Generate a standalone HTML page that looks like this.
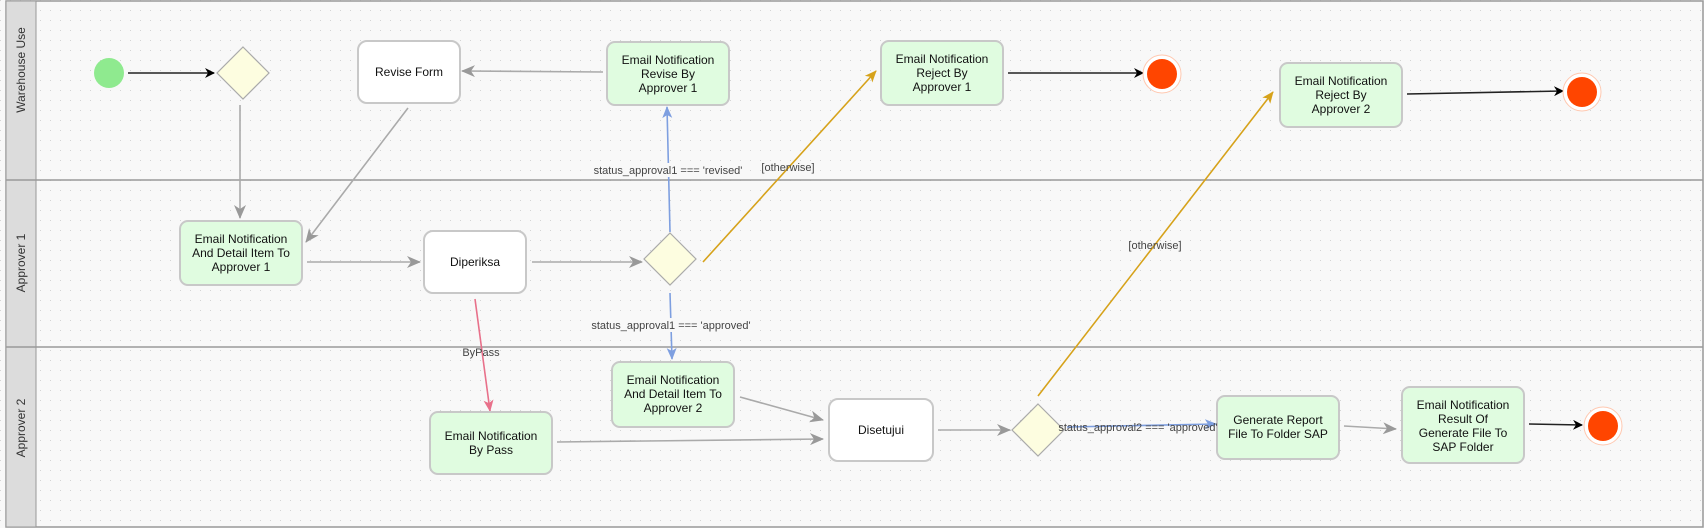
<!DOCTYPE html>
<html><head><meta charset="utf-8"><style>
html,body{margin:0;padding:0;background:#fff;}
svg{display:block;font-family:"Liberation Sans",Arial,sans-serif;}
</style></head><body>
<svg width="1704" height="528" viewBox="0 0 1704 528" xmlns="http://www.w3.org/2000/svg">
<defs>
<pattern id="dots" width="10" height="10" patternUnits="userSpaceOnUse"><rect width="10" height="10" fill="#f8f8f8"/><rect x="0" y="0" width="1" height="1" fill="#d4d4d4"/></pattern>
<marker id="ab" markerWidth="10" markerHeight="10" refX="9" refY="5" orient="auto" markerUnits="userSpaceOnUse"><path d="M0,0 L10,5 L0,10 L3,5 z" fill="#000"/></marker>
<marker id="ag" markerWidth="14" markerHeight="12" refX="13" refY="6" orient="auto" markerUnits="userSpaceOnUse"><path d="M0,0 L14,6 L0,12 L4,6 z" fill="#999"/></marker>
<marker id="abl" markerWidth="12" markerHeight="10" refX="11" refY="5" orient="auto" markerUnits="userSpaceOnUse"><path d="M0,0 L12,5 L0,10 L3,5 z" fill="#7e9fe0"/></marker>
<marker id="ao" markerWidth="12" markerHeight="10" refX="11" refY="5" orient="auto" markerUnits="userSpaceOnUse"><path d="M0,0 L12,5 L0,10 L3,5 z" fill="#d6a21a"/></marker>
<marker id="ap" markerWidth="12" markerHeight="10" refX="11" refY="5" orient="auto" markerUnits="userSpaceOnUse"><path d="M0,0 L12,5 L0,10 L3,5 z" fill="#e8708a"/></marker>
</defs>
<rect x="0" y="0" width="1704" height="528" fill="url(#dots)"/>
<rect x="6" y="1" width="1697" height="526" fill="none" stroke="#999" stroke-width="1.5"/>
<rect x="6" y="1" width="30" height="526" fill="#dcdcdc" stroke="#999"/>
<line x1="6" y1="180" x2="1703" y2="180" stroke="#999" stroke-width="1.5"/>
<line x1="6" y1="347" x2="1703" y2="347" stroke="#999" stroke-width="1.5"/>
<g font-size="12" fill="#333" text-anchor="middle">
<text transform="translate(25,70) rotate(-90)">Warehouse Use</text>
<text transform="translate(25,263) rotate(-90)">Approver 1</text>
<text transform="translate(25,428) rotate(-90)">Approver 2</text>
</g>
<g fill="none" stroke-width="1.6">
<line x1="128" y1="73" x2="214" y2="73" stroke="#222" marker-end="url(#ab)"/>
<line x1="240" y1="105" x2="240" y2="218" stroke="#aaa" marker-end="url(#ag)"/>
<line x1="408" y1="108" x2="306" y2="242" stroke="#aaa" marker-end="url(#ag)"/>
<line x1="307" y1="262" x2="420" y2="262" stroke="#aaa" marker-end="url(#ag)"/>
<line x1="603" y1="72" x2="462" y2="71" stroke="#aaa" marker-end="url(#ag)"/>
<line x1="532" y1="262" x2="642" y2="262" stroke="#aaa" marker-end="url(#ag)"/>
<line x1="670" y1="232" x2="667" y2="107" stroke="#7e9fe0" marker-end="url(#abl)"/>
<line x1="703" y1="262" x2="876" y2="71" stroke="#d6a21a" marker-end="url(#ao)"/>
<line x1="1008" y1="73" x2="1143" y2="73" stroke="#222" marker-end="url(#ab)"/>
<line x1="1407" y1="94" x2="1563" y2="91" stroke="#222" marker-end="url(#ab)"/>
<line x1="670" y1="293" x2="672" y2="359" stroke="#7e9fe0" marker-end="url(#abl)"/>
<line x1="475" y1="299" x2="490" y2="411" stroke="#e8708a" marker-end="url(#ap)"/>
<line x1="740" y1="397" x2="823" y2="420" stroke="#aaa" marker-end="url(#ag)"/>
<line x1="557" y1="442" x2="823" y2="439" stroke="#aaa" marker-end="url(#ag)"/>
<line x1="938" y1="430" x2="1010" y2="430" stroke="#aaa" marker-end="url(#ag)"/>
<line x1="1038" y1="396" x2="1273" y2="92" stroke="#d6a21a" marker-end="url(#ao)"/>
<line x1="1067" y1="427" x2="1216" y2="424" stroke="#7e9fe0" marker-end="url(#abl)"/>
<line x1="1344" y1="426" x2="1396" y2="429" stroke="#aaa" marker-end="url(#ag)"/>
<line x1="1529" y1="424" x2="1582" y2="425" stroke="#222" marker-end="url(#ab)"/>
</g>
<circle cx="109" cy="73" r="15" fill="#8fea8f"/>
<g fill="#fdfde0" stroke="#aaa" stroke-width="1.2">
<polygon points="243,47 269,73 243,99 217,73"/>
<polygon points="670,233 696,259 670,285 644,259"/>
<polygon points="1038,404 1064,430 1038,456 1012,430"/>
</g>
<g stroke="#c8c8c8" stroke-width="2">
<rect x="358" y="41" width="102" height="62" rx="9" fill="#fff"/>
<rect x="424" y="231" width="102" height="62" rx="9" fill="#fff"/>
<rect x="829" y="399" width="104" height="62" rx="9" fill="#fff"/>
<rect x="180" y="221" width="122" height="64" rx="8" fill="#e0fce0"/>
<rect x="607" y="42" width="122" height="63" rx="8" fill="#e0fce0"/>
<rect x="881" y="41" width="122" height="64" rx="8" fill="#e0fce0"/>
<rect x="1280" y="63" width="122" height="64" rx="8" fill="#e0fce0"/>
<rect x="612" y="362" width="122" height="65" rx="8" fill="#e0fce0"/>
<rect x="430" y="412" width="122" height="62" rx="8" fill="#e0fce0"/>
<rect x="1217" y="396" width="122" height="63" rx="8" fill="#e0fce0"/>
<rect x="1402" y="387" width="122" height="76" rx="8" fill="#e0fce0"/>
</g>
<g>
<circle cx="1162" cy="74" r="19" fill="#fff" stroke="#ffc8b0"/>
<circle cx="1162" cy="74" r="15" fill="#ff4500"/>
<circle cx="1582" cy="92" r="19" fill="#fff" stroke="#ffc8b0"/>
<circle cx="1582" cy="92" r="15" fill="#ff4500"/>
<circle cx="1603" cy="426" r="19" fill="#fff" stroke="#ffc8b0"/>
<circle cx="1603" cy="426" r="15" fill="#ff4500"/>
</g>
<g font-size="12" fill="#111" text-anchor="middle">
<text x="409" y="76">Revise Form</text>
<text x="475" y="266">Diperiksa</text>
<text x="881" y="434">Disetujui</text>
<text x="241" y="243">Email Notification</text><text x="241" y="257">And Detail Item To</text><text x="241" y="271">Approver 1</text>
<text x="668" y="64">Email Notification</text><text x="668" y="78">Revise By</text><text x="668" y="92">Approver 1</text>
<text x="942" y="63">Email Notification</text><text x="942" y="77">Reject By</text><text x="942" y="91">Approver 1</text>
<text x="1341" y="85">Email Notification</text><text x="1341" y="99">Reject By</text><text x="1341" y="113">Approver 2</text>
<text x="673" y="384">Email Notification</text><text x="673" y="398">And Detail Item To</text><text x="673" y="412">Approver 2</text>
<text x="491" y="440">Email Notification</text><text x="491" y="454">By Pass</text>
<text x="1278" y="424">Generate Report</text><text x="1278" y="438">File To Folder SAP</text>
<text x="1463" y="409">Email Notification</text><text x="1463" y="423">Result Of</text><text x="1463" y="437">Generate File To</text><text x="1463" y="451">SAP Folder</text>
</g>
<g font-size="11" fill="#444" text-anchor="middle">
<rect x="590" y="163" width="156" height="14" fill="#f8f8f8"/>
<text x="668" y="174">status_approval1 === 'revised'</text>
<text x="788" y="171">[otherwise]</text>
<rect x="586" y="318" width="170" height="14" fill="#f8f8f8"/>
<text x="671" y="329">status_approval1 === 'approved'</text>
<text x="481" y="356">ByPass</text>
<text x="1155" y="249">[otherwise]</text>
<text x="1138" y="431">status_approval2 === 'approved'</text>
</g>
</svg>
</body></html>
